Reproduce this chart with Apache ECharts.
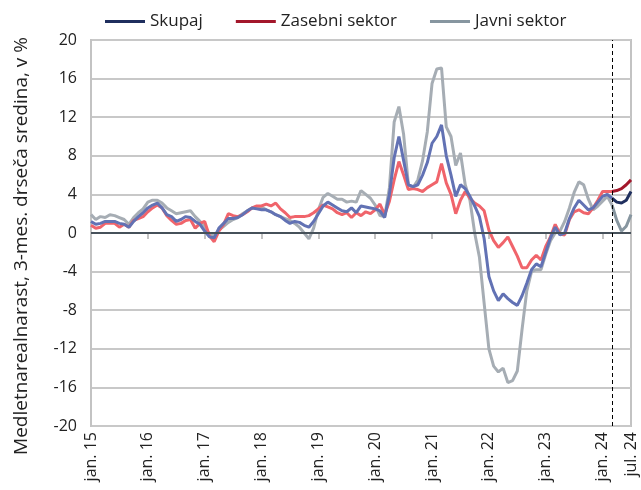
<!DOCTYPE html>
<html>
<head>
<meta charset="utf-8">
<script src="https://cdn.jsdelivr.net/npm/echarts@6/dist/echarts.min.js"></script>
<style>html,body{margin:0;padding:0;background:#fff}#c{width:641px;height:490px}</style>
</head>
<body>
<div id="c"></div>
<script>
// Monthly data, jan. 2015 – jul. 2024
const monthNames = ['jan.','feb.','mar.','apr.','maj','jun.','jul.','avg.','sep.','okt.','nov.','dec.'];
const years = ['15','16','17','18','19','20','21','22','23','24'];
const lastMonthOf24 = 6; // jul.
const categories = [];
years.forEach(function (y) {
  monthNames.forEach(function (m, mi) {
    if (y === '24' && mi > lastMonthOf24) return;
    categories.push(m + ' ' + y);
  });
});

const seriesNames = ['Skupaj', 'Zasebni sektor', 'Javni sektor'];
const yTicks = [-20, -16, -12, -8, -4, 0, 4, 8, 12, 16, 20];
const splitCategory = 'mar. 24';

const skupaj = [
  1.2, 0.9, 1.0, 1.2, 1.2, 1.2, 1.0, 0.9, 0.6, 1.2, 1.7, 2.1,
  2.6, 2.9, 3.1, 2.6, 1.9, 1.7, 1.2, 1.4, 1.7, 1.6, 1.2, 0.9,
  0.2, -0.4, -0.5, 0.5, 1.0, 1.5, 1.5, 1.6, 1.9, 2.3, 2.6, 2.5,
  2.4, 2.4, 2.2, 1.9, 1.7, 1.3, 1.0, 1.2, 1.1, 0.8, 0.6, 1.2,
  2.0, 2.8, 3.2, 2.9, 2.6, 2.3, 2.2, 2.6, 2.1, 2.8, 2.7, 2.6,
  2.5, 2.3, 1.6, 4.0, 7.8, 10.0, 7.5, 5.0, 4.8, 5.0, 6.0, 7.3,
  9.3, 10.0, 11.2, 8.0, 6.0, 3.8, 5.0, 4.6, 3.8, 2.8, 1.7, -0.6,
  -4.5, -6.0, -7.0, -6.3, -6.8, -7.2, -7.5, -6.5, -5.2, -3.8, -3.2, -3.5,
  -2.0, -0.5, 0.6, -0.2, 0.0, 1.5, 2.6, 3.4, 2.9, 2.4, 2.6, 3.2,
  3.8, 4.0, 3.6, 3.2, 3.1, 3.4, 4.3
];
const zasebni = [
  0.8, 0.5, 0.6, 1.0, 1.0, 1.0, 0.6, 0.9, 0.6, 1.3, 1.5, 1.7,
  2.2, 2.6, 2.9, 2.6, 1.8, 1.3, 0.9, 1.0, 1.3, 1.4, 0.5, 1.0,
  1.2, -0.3, -0.9, 0.2, 0.9, 2.0, 1.8, 1.7, 1.9, 2.2, 2.6, 2.8,
  2.8, 3.0, 2.8, 3.1, 2.5, 2.1, 1.6, 1.7, 1.7, 1.7, 1.8, 2.1,
  2.5, 2.9, 2.7, 2.5, 2.1, 1.9, 2.1, 1.6, 2.1, 1.8, 2.2, 2.0,
  2.4, 3.0, 1.9, 3.3, 5.5, 7.4, 6.0, 4.5, 4.6, 4.5, 4.3, 4.7,
  5.0, 5.3, 7.2, 5.2, 4.0, 2.0, 3.4, 4.3, 3.6, 3.1, 2.8, 2.3,
  0.3, -0.8, -1.5, -1.0, -0.4, -1.4, -2.4, -3.6, -3.6, -2.8, -2.3, -2.8,
  -1.4, -0.4, 0.9, -0.1, -0.2, 1.4, 2.2, 2.4, 2.1, 2.0, 2.6, 3.4,
  4.3, 4.3, 4.3, 4.4, 4.6, 5.0, 5.5
];
const javni = [
  1.9, 1.4, 1.7, 1.6, 1.9, 1.8, 1.6, 1.4, 0.9, 1.6, 2.1, 2.5,
  3.2, 3.4, 3.4, 3.1, 2.6, 2.3, 2.0, 2.1, 2.2, 2.3, 1.7, 1.2,
  0.7, -0.1, -0.3, 0.3, 0.7, 1.1, 1.4, 1.6, 2.0, 2.3, 2.6, 2.7,
  2.7, 2.4, 2.2, 1.9, 1.7, 1.5, 1.3, 1.0, 0.6, 0.0, -0.6, 0.5,
  2.4, 3.7, 4.1, 3.8, 3.5, 3.5, 3.2, 3.3, 3.2, 4.4, 4.0, 3.6,
  2.9, 1.8, 1.7, 4.7, 11.5, 13.1, 10.2, 5.0, 4.7, 5.5, 7.5, 10.5,
  15.5, 17.0, 17.1, 11.0, 10.0, 7.0, 8.3, 5.0, 3.4, 0.0, -2.5, -7.3,
  -12.0, -13.8, -14.4, -14.0, -15.5, -15.3, -14.3, -10.0, -6.0, -4.0, -3.8, -3.8,
  -2.2, -0.8, 0.0, 0.2, 1.2, 2.6, 4.2, 5.3, 5.0, 3.5, 2.4, 2.8,
  3.3, 3.8, 2.9, 1.3, 0.2, 0.7, 1.9
];

const FONT = "'Open Sans', sans-serif";
const splitIndex = categories.indexOf(splitCategory);
function before(arr) { return arr.map(function (v, i) { return i <= splitIndex ? v : null; }); }
function after(arr) { return arr.map(function (v, i) { return i >= splitIndex ? v : null; }); }

const darkColors = ['#1f2f5e', '#a3172b', '#8796a0'];
const lightColors = ['#6272b4', '#f0646b', '#a6adb4'];
const values = [skupaj, zasebni, javni];

function shownIndex(index) { return index % 12 === 0 || index === categories.length - 1; }

const series = [{
  name: 'ref',
  type: 'line',
  data: categories.map(function () { return null; }),
  z: 1,
  silent: true,
  markLine: {
    silent: true,
    symbol: ['none', 'none'],
    label: { show: false },
    animation: false,
    data: [
      { yAxis: 0, lineStyle: { color: '#46515a', width: 2, type: 'solid' } },
      { xAxis: splitCategory, lineStyle: { color: '#000', width: 1, type: [4, 3] } }
    ]
  }
}];
// draw order: Javni (back), Zasebni, Skupaj (front)
[2, 1, 0].forEach(function (k) {
  series.push({
    name: seriesNames[k] + ' (pred)',
    type: 'line',
    data: before(values[k]),
    showSymbol: false,
    symbol: 'none',
    z: 2,
    lineStyle: { color: lightColors[k], width: 3 },
    itemStyle: { color: lightColors[k] }
  });
});
[2, 1, 0].forEach(function (k) {
  series.push({
    name: seriesNames[k],
    type: 'line',
    data: after(values[k]),
    showSymbol: false,
    symbol: 'none',
    z: 3,
    lineStyle: { color: darkColors[k], width: 3 },
    itemStyle: { color: darkColors[k] }
  });
});

const chart = echarts.init(document.getElementById('c'), null, { renderer: 'canvas' });
chart.setOption({
  animation: false,
  textStyle: { fontFamily: FONT },
  grid: { left: 91, right: 10, top: 40, bottom: 64, show: true, borderColor: '#c3c3c3', borderWidth: 2 },
  legend: {
    data: seriesNames,
    left: 100, top: 8,
    icon: 'rect', itemWidth: 40, itemHeight: 3, itemGap: 33,
    textStyle: { fontSize: 17, color: '#222', fontFamily: FONT }
  },
  xAxis: {
    type: 'category',
    data: categories,
    boundaryGap: false,
    axisLine: { show: true, lineStyle: { color: '#c3c3c3', width: 2 } },
    axisTick: { show: true, interval: shownIndex, length: 6, lineStyle: { color: '#c3c3c3', width: 2 } },
    axisLabel: { interval: shownIndex, rotate: 90, fontSize: 16, color: '#222', margin: 6, fontFamily: FONT },
    splitLine: { show: false }
  },
  yAxis: {
    type: 'value',
    min: yTicks[0], max: yTicks[yTicks.length - 1], interval: 4,
    name: 'Medletnarealnarast, 3-mes. drseča sredina, v %',
    nameLocation: 'middle',
    nameGap: 60,
    nameTextStyle: { fontSize: 19, color: '#222', fontFamily: FONT, padding: [0, 26, 0, 0] },
    axisLine: { show: true, lineStyle: { color: '#c3c3c3', width: 2 } },
    axisTick: { show: false },
    axisLabel: { fontSize: 16, color: '#222', margin: 14, fontFamily: FONT },
    splitLine: { show: true, lineStyle: { color: '#c8c8c8', width: 2 } }
  },
  series: series
});
</script>
</body>
</html>
